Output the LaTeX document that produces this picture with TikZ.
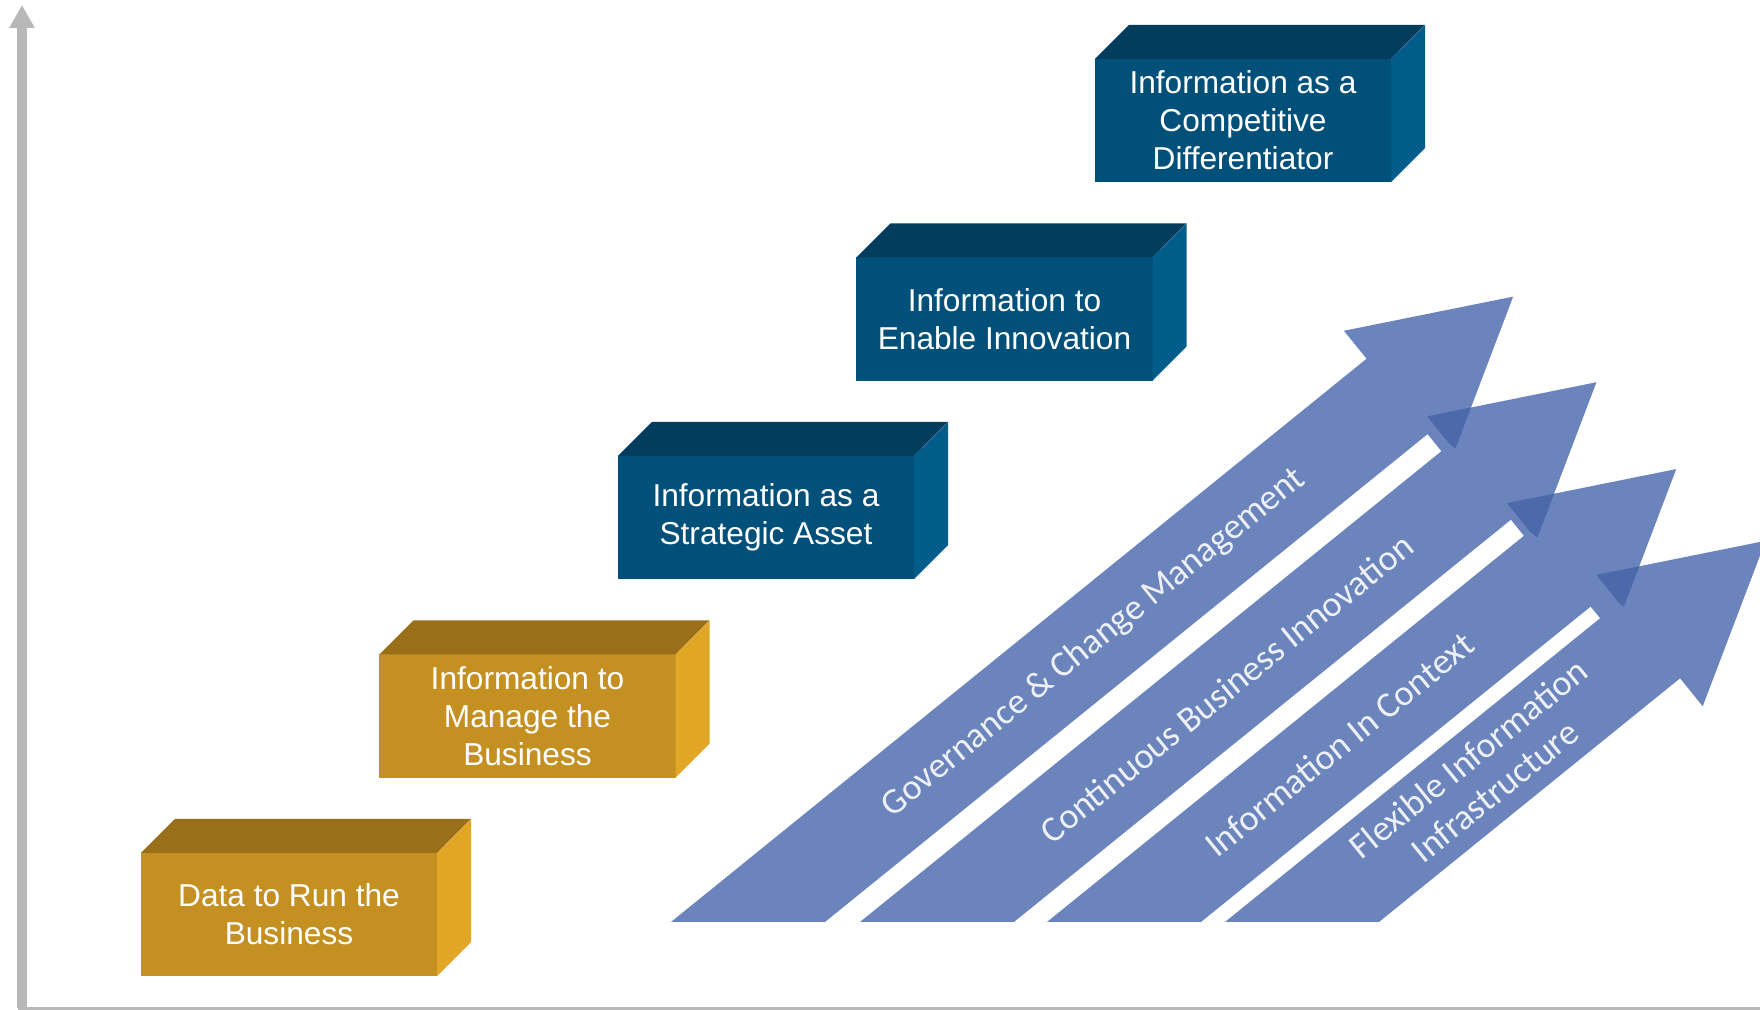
\documentclass[tikz,border=0pt]{standalone}
\usepackage{fontspec}
\setmainfont{Liberation Sans}
\newfontfamily\trendfont{Carlito}
\usetikzlibrary{arrows.meta, positioning}
\definecolor{goldfront}{RGB}{196,144,34}
\definecolor{goldtop}{RGB}{153,111,26}
\definecolor{goldside}{RGB}{225,166,37}
\definecolor{bluefront}{RGB}{1,80,121}
\definecolor{bluetop}{RGB}{2,61,93}
\definecolor{blueside}{RGB}{0,93,138}
\definecolor{trendblue}{RGB}{107,132,188}
\definecolor{trenddark}{RGB}{76,105,172}
\definecolor{axisgray}{RGB}{184,184,184}
\tikzset{
		level box/.style={
			rectangle,
			minimum width=2.96cm,
			minimum height=1.23cm,
			inner sep=0pt,
			outer sep=0pt,
			align=center,
			text=white,
			font=\fontsize{9}{10.8}\selectfont
		},
		gold box/.style={level box, fill=goldfront},
		blue box/.style={level box, fill=bluefront},
		trend/.style={fill=trendblue},
		trend shadow/.style={fill=trenddark},
		trend label/.style={
			rotate=39,
			align=center,
			text=white,
			text opacity=0.88,
			font=\trendfont\fontsize{10.3}{12}\selectfont
		},
		axis line/.style={draw=axisgray, line width=0.09cm}
	}
% top and side faces of a box node
\newcommand{\boxsides}[3]{
	\fill[#2] (#1.north west) -- ++(34,34) -- ++(296,0) -- (#1.north east) -- cycle;
	\fill[#3] (#1.north east) -- ++(34,34) -- ++(0,-123) -- (#1.south east) -- cycle;
}
\newcommand{\trendshape}[1]{(0,0) -- (#1-153,0) -- (#1-153,36) -- (#1,-44) -- (#1-153,-133) -- (#1-153,-97) -- (119.7,-96.9) -- cycle}

\begin{document}
\begin{tikzpicture}[x=0.01cm, y=0.01cm]
			\useasboundingbox (0,0) rectangle (1760,1010);
			\coordinate (origin) at (22,1.5);
			\coordinate (ytop) at (22,1005);
			\coordinate (xend) at (1760,1.5);
			\draw [axis line, -{Triangle[length=0.23cm, width=0.24cm]}] (origin) -- (ytop);
			\draw [axisgray, line width=0.03cm] (18,1.5) -- (xend);

			\node (data) [gold box] at (289,95.5) {Data to Run the\\Business};
			\boxsides{data}{goldtop}{goldside}
			\node (manage) [gold box] at (527.5,294) {Information to\\Manage the\\Business};
			\boxsides{manage}{goldtop}{goldside}
			\node (asset) [blue box] at (766,492.5) {Information as a\\Strategic Asset};
			\boxsides{asset}{bluetop}{blueside}
			\node (enable) [blue box] at (1004.5,691) {Information to\\Enable Innovation};
			\boxsides{enable}{bluetop}{blueside}
			\node (differ) [blue box] at (1243,889.5) {Information as a\\Competitive\\Differentiator};
			\boxsides{differ}{bluetop}{blueside}

			\begin{scope}[shift={(671,88)}, rotate=39]
				\fill [trend] \trendshape{1048};
				\node (gov) [trend label] at (504,-49) {Governance \& Change Management};
			\end{scope}
			\begin{scope}[shift={(860,88)}, rotate=39]
				\fill [trend] \trendshape{912};
				\node (cbi) [trend label] at (432,-49) {Continuous Business Innovation};
			\end{scope}
			\begin{scope}[shift={(1047,88)}, rotate=39]
				\fill [trend] \trendshape{774};
				\node (iic) [trend label] at (339,-46) {Information In Context};
			\end{scope}
			\begin{scope}[shift={(1225,88)}, rotate=39]
				\fill [trend] \trendshape{660};
				\node (fii) [trend label] at (292,-47) {Flexible Information\\Infrastructure};
			\end{scope}

			\begin{scope}
				\clip [shift={(671,88)}, rotate=39] \trendshape{1048};
				\fill [trend shadow, shift={(860,88)}, rotate=39] (759,36) -- (828,0) -- (762,-14) -- (759,0) -- cycle;
			\end{scope}
			\begin{scope}
				\clip [shift={(860,88)}, rotate=39] \trendshape{912};
				\fill [trend shadow, shift={(1047,88)}, rotate=39] (621,36) -- (690,0) -- (624,-14) -- (621,0) -- cycle;
			\end{scope}
			\begin{scope}
				\clip [shift={(1047,88)}, rotate=39] \trendshape{774};
				\fill [trend shadow, shift={(1225,88)}, rotate=39] (507,36) -- (576,0) -- (510,-14) -- (507,0) -- cycle;
			\end{scope}
\end{tikzpicture}
\end{document}
